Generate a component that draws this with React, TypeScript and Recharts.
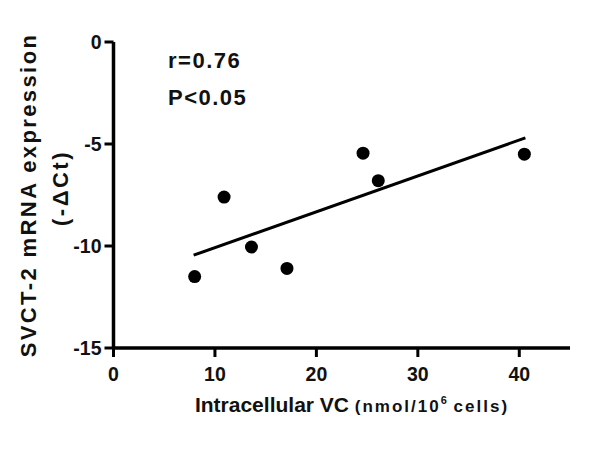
import { ScatterChart, Scatter, XAxis, YAxis, Customized } from 'recharts'

// measured points: intracellular VC vs SVCT-2 expression
const vcLevels = [8.0, 10.9, 13.6, 17.1, 24.6, 26.1, 40.5]
const svctExpr = [-11.5, -7.6, -10.05, -11.1, -5.45, -6.8, -5.5]

// end points of the fitted regression line
const fitX = [7.9, 40.6]
const fitY = [-10.45, -4.7]

const xTicks = [0, 10, 20, 30, 40]
const yTicks = [0, -5, -10, -15]

const font = '"Liberation Sans", Arial, Helvetica, sans-serif'

const points = vcLevels.map((x, i) => ({ x, y: svctExpr[i] }))
const fitLine = fitX.map((x, i) => ({ x, y: fitY[i] }))

function XTick(p: any) {
  return (
    <text x={p.x} y={p.y} dy="0.71em" textAnchor="middle" fontSize={19.5} fontWeight={700} fill="#111" fontFamily={font}>
      {p.payload.value}
    </text>
  )
}

function YTick(p: any) {
  return (
    <text x={p.x} y={p.y} dy="0.355em" textAnchor="end" fontSize={19.5} fontWeight={700} fill="#111" fontFamily={font}>
      {p.payload.value}
    </text>
  )
}

function Labels() {
  return (
    <g fontFamily={font} fontWeight={700} fill="#111">
      <text x={168} y={68} fontSize={22} letterSpacing={1.5}>r=0.76</text>
      <text x={168} y={105} fontSize={22} letterSpacing={1.5}>P&lt;0.05</text>
      <text x={352} y={412} textAnchor="middle">
        <tspan fontSize={21}>Intracellular VC </tspan>
        <tspan fontSize={17} letterSpacing={2}>(nmol/10</tspan>
        <tspan fontSize={11} dy={-8}>6</tspan>
        <tspan fontSize={17} dy={8} letterSpacing={2}> cells)</tspan>
      </text>
      <text transform="translate(36,195) rotate(-90)" textAnchor="middle" fontSize={22} letterSpacing={2.4}>
        SVCT-2 mRNA expression
      </text>
      <text transform="translate(68,188) rotate(-90)" textAnchor="middle" fontSize={22} letterSpacing={2.5}>
        (-ΔCt)
      </text>
    </g>
  )
}

export default function App() {
  return (
    <div style={{ position: 'absolute', left: 0, top: 0, background: '#fff' }}>
      <ScatterChart width={600} height={454} margin={{ top: 42, right: 30, bottom: 76, left: 0 }}>
        <XAxis
          type="number"
          dataKey="x"
          domain={[0, 45]}
          ticks={xTicks}
          height={30}
          allowDataOverflow
          tickSize={9}
          tickMargin={10}
          tick={XTick}
          tickLine={{ stroke: '#000', strokeWidth: 3 }}
          axisLine={{ stroke: '#000', strokeWidth: 3.5 }}
        />
        <YAxis
          type="number"
          dataKey="y"
          domain={[-15, 0]}
          ticks={yTicks}
          width={113.5}
          allowDataOverflow
          tickSize={9}
          tickMargin={3}
          tick={YTick}
          tickLine={{ stroke: '#000', strokeWidth: 3 }}
          axisLine={{ stroke: '#000', strokeWidth: 3.5 }}
        />
        <Scatter
          data={fitLine}
          line={{ stroke: '#000', strokeWidth: 3 }}
          shape={() => <g />}
          isAnimationActive={false}
        />
        <Scatter
          data={points}
          fill="#000"
          shape={(p: any) => <circle cx={p.cx} cy={p.cy} r={6.5} fill="#000" />}
          isAnimationActive={false}
        />
        <Customized component={Labels} />
      </ScatterChart>
    </div>
  )
}
